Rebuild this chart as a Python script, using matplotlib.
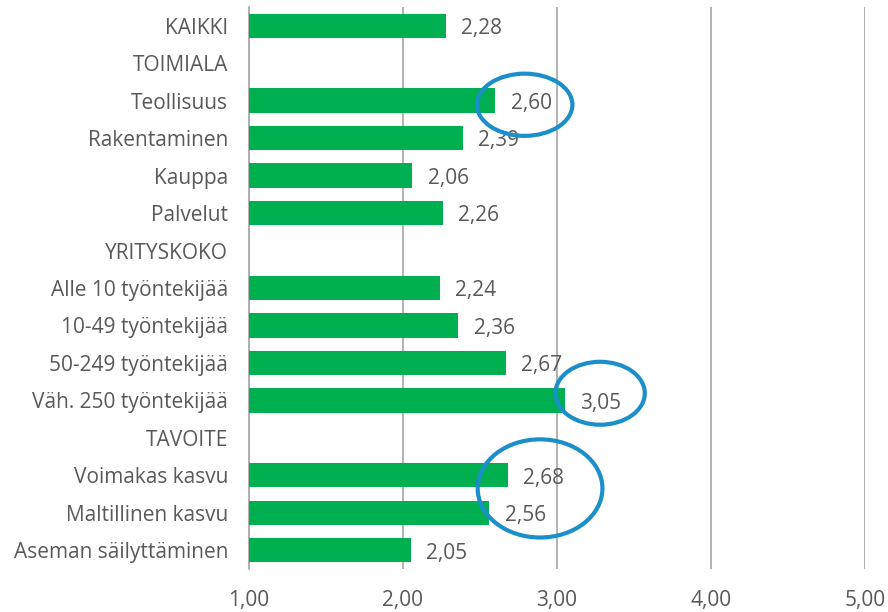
import matplotlib
matplotlib.use("Agg")
import numpy as np
import matplotlib.pyplot as plt
from matplotlib.patches import Ellipse

# ==========================================================
# Data
# ==========================================================
kategoriat = [
    "KAIKKI",
    "TOIMIALA",
    "Teollisuus",
    "Rakentaminen",
    "Kauppa",
    "Palvelut",
    "YRITYSKOKO",
    "Alle 10 työntekijää",
    "10-49 työntekijää",
    "50-249 työntekijää",
    "Väh. 250 työntekijää",
    "TAVOITE",
    "Voimakas kasvu",
    "Maltillinen kasvu",
    "Aseman säilyttäminen",
]
arvot = [2.28, np.nan, 2.60, 2.39, 2.06, 2.26, np.nan,
         2.24, 2.36, 2.67, 3.05, np.nan, 2.68, 2.56, 2.05]
x_ticks = [1, 2, 3, 4, 5]
x_labels = ["1,00", "2,00", "3,00", "4,00", "5,00"]

vihrea = "#00b050"
harmaa = "#595959"
sininen = "#1a8fc9"
koko = 15

plt.rcParams["font.family"] = ["Open Sans", "DejaVu Sans"]

fig = plt.figure(figsize=(8.88, 6.12), dpi=100)
ax = fig.add_axes([0.2804, 0.0703, 0.6937, 0.9183])

y = np.arange(len(kategoriat))
leveys = [a - 1 if not np.isnan(a) else 0 for a in arvot]
ax.barh(y, leveys, left=1, height=0.65, color=vihrea, zorder=3)

for i, a in enumerate(arvot):
    if np.isnan(a):
        continue
    ax.annotate(
        f"{a:.2f}".replace(".", ","),
        xy=(a, i),
        xytext=(11, -2),
        textcoords="offset points",
        ha="left",
        va="center",
        fontsize=koko,
        color=harmaa,
        zorder=4,
    )

ax.set_xlim(1, 5)
ax.set_ylim(len(kategoriat) - 0.5, -0.5)
ax.set_xticks(x_ticks)
ax.set_xticklabels(x_labels)
ax.set_yticks(y)
ax.set_yticklabels(kategoriat)
ax.tick_params(axis="both", length=0, labelsize=koko, labelcolor=harmaa)
ax.tick_params(axis="y", pad=15)
ax.tick_params(axis="x", pad=15)

ax.grid(axis="x", color="#a6a6a6", linewidth=1.2, zorder=0)
for s in ["top", "right", "bottom"]:
    ax.spines[s].set_visible(False)
ax.spines["left"].set_color("#a6a6a6")
ax.spines["left"].set_linewidth(1.2)

# korostukset
ympyrat = [
    (2.79, 2.11, 0.62, 1.66),
    (3.28, 9.81, 0.58, 1.68),
    (2.89, 12.35, 0.81, 2.62),
]
for cx, cy, w, h in ympyrat:
    ax.add_patch(Ellipse((cx, cy), w, h, fill=False,
                         edgecolor=sininen, linewidth=3, zorder=5,
                         clip_on=False))

fig.savefig("out.png", dpi=100)
